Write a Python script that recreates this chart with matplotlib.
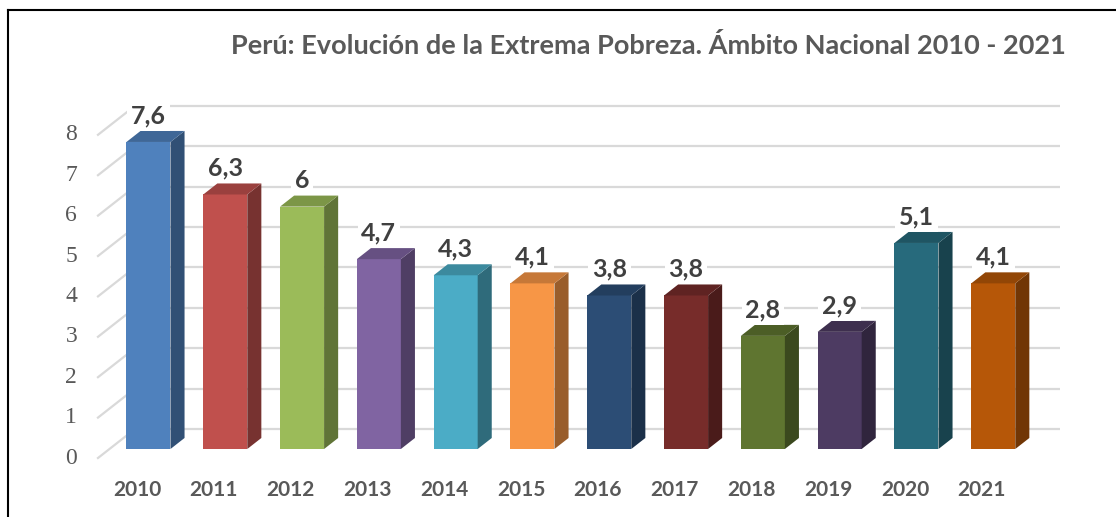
import matplotlib
matplotlib.use("Agg")
import matplotlib.pyplot as plt
from matplotlib.patches import Polygon
from matplotlib.lines import Line2D
import matplotlib.colors as mcolors
import numpy as np

# datos
years = ["2010", "2011", "2012", "2013", "2014", "2015",
         "2016", "2017", "2018", "2019", "2020", "2021"]
values = [7.6, 6.3, 6.0, 4.7, 4.3, 4.1, 3.8, 3.8, 2.8, 2.9, 5.1, 4.1]
labels = ["7,6", "6,3", "6", "4,7", "4,3", "4,1", "3,8", "3,8", "2,8", "2,9", "5,1", "4,1"]
colors = ["#4F81BD", "#C0504D", "#9BBB59", "#8064A2", "#4BACC6", "#F79646",
          "#2C4D75", "#772C2A", "#5F7530", "#4D3B62", "#276A7C", "#B65708"]
yticks = list(range(0, 9))
title = "Perú: Evolución de la Extrema Pobreza. Ámbito Nacional 2010 - 2021"

# geometria del "3D" (en unidades de datos)
DX, DY = 0.482, 0.718      # desplazamiento de profundidad total
Z1, Z2 = 0.31, 0.69        # profundidad del frente / fondo de la barra
W = 0.573                  # ancho de barra
X_LEFT, X_RIGHT = -0.508, 11.54

GRID = "#D9D9D9"
TXT = "#595959"


def shade(c, f):
    r, g, b = mcolors.to_rgb(c)
    return (r * f, g * f, b * f)


fig = plt.figure(figsize=(11.16, 5.17), dpi=100)
ax = fig.add_axes([0, 0, 1, 1])
ax.set_xlim(-137 / 76.8, (1116 - 137) / 76.8)
ax.set_ylim((458 - 517) / 40.4, 458 / 40.4)
ax.axis("off")

# pared de fondo y lineas oblicuas del eje
for v in yticks:
    ax.plot([X_LEFT + DX, X_RIGHT + DX], [v + DY, v + DY], color=GRID, lw=1.6,
            zorder=1, solid_capstyle="butt")
    ax.plot([X_LEFT, X_LEFT + DX], [v, v + DY], color=GRID, lw=1.6, zorder=1)
    ax.text(X_LEFT - 0.27, v, str(v), ha="right", va="center", fontsize=17,
            family="Liberation Serif", color=TXT)

# barras
for i, (v, c) in enumerate(zip(values, colors)):
    x0 = i - W / 2 + Z1 * DX
    y0 = Z1 * DY
    ddx = (Z2 - Z1) * DX
    ddy = (Z2 - Z1) * DY
    front = Polygon([(x0, y0), (x0 + W, y0), (x0 + W, y0 + v), (x0, y0 + v)],
                    closed=True, fc=c, ec="none", zorder=3)
    side = Polygon([(x0 + W, y0), (x0 + W + ddx, y0 + ddy),
                    (x0 + W + ddx, y0 + ddy + v), (x0 + W, y0 + v)],
                   closed=True, fc=shade(c, 0.62), ec="none", zorder=3)
    top = Polygon([(x0, y0 + v), (x0 + W, y0 + v),
                   (x0 + W + ddx, y0 + ddy + v), (x0 + ddx, y0 + ddy + v)],
                  closed=True, fc=shade(c, 0.8), ec="none", zorder=3)
    for p in (front, side, top):
        ax.add_patch(p)
    ax.annotate(labels[i], (i + Z1 * DX, y0 + v), xytext=(0, 19),
                textcoords="offset points", ha="center", va="center",
                fontsize=18, fontweight="bold", family="Lato", color="#404040",
                bbox=dict(boxstyle="square,pad=0.15", fc="white", ec="none"),
                zorder=5)
    ax.text(i, -0.79, years[i], ha="center", va="center", fontsize=15,
            fontweight="bold", family="Lato", color=TXT)

fig.text(648 / 1116, 1 - 46 / 517, title, ha="center", va="center", fontsize=19.5,
         fontweight="bold", family="Lato", color=TXT)

# marco
fig.add_artist(Line2D([8 / 1116, 1], [1 - 10 / 517, 1 - 10 / 517], color="black", lw=1.5))
fig.add_artist(Line2D([8 / 1116, 8 / 1116], [0, 1 - 10 / 517], color="black", lw=1.5))

fig.savefig("out.png", dpi=100)
